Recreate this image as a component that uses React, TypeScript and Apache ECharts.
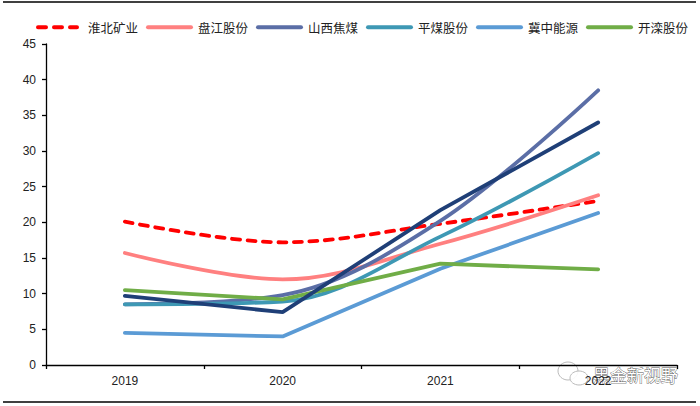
import React, { useEffect, useRef } from "react";
import * as echarts from "echarts";

const categories = ["2019", "2020", "2021", "2022"];
const huaibei = [20.1, 17.2, 19.8, 23.0];
const panjiang = [15.7, 12.0, 17.0, 23.8];
const shanxi = [8.5, 9.8, 20.2, 38.5];
const pingmei = [8.5, 8.9, 18.0, 29.7];
const jizhong = [4.5, 4.0, 13.5, 21.3];
const kailuan = [10.5, 9.2, 14.2, 13.4];
const unlabeled = [9.7, 7.4, 21.7, 34.0];
const legendNames = ["淮北矿业", "盘江股份", "山西焦煤", "平煤股份", "冀中能源", "开滦股份"];

const font = "Liberation Sans, Arial, sans-serif";
const cjk = "'Noto Sans CJK SC', sans-serif";

const pillIcon = "path://M2,0L45,0A2,2 0 0 1 45,4L2,4A2,2 0 0 1 2,0Z";
const dashIcon =
  "path://M2,0L10,0A2,2 0 0 1 10,4L2,4A2,2 0 0 1 2,0Z" +
  "M18,0L26,0A2,2 0 0 1 26,4L18,4A2,2 0 0 1 18,0Z" +
  "M34,0L41,0A2,2 0 0 1 41,4L34,4A2,2 0 0 1 34,0Z" +
  "M47,0L47,0L47,4L47,4Z";

function line(name: string, data: number[], color: string, smooth: boolean, dashed = false) {
  return {
    name,
    type: "line",
    data,
    smooth: smooth ? 0.35 : false,
    symbol: "none",
    lineStyle: { color, width: 3.8, type: dashed ? [8, 7.5] : "solid", cap: "round" },
    itemStyle: { color },
  };
}

export default function App() {
  const ref = useRef<HTMLDivElement>(null);
  useEffect(() => {
    const chart = echarts.init(ref.current!, undefined, { renderer: "svg" });
    chart.setOption({
      animation: false,
      backgroundColor: "#fff",
      grid: { left: 46, right: 23, top: 44, bottom: 41 },
      legend: {
        data: legendNames.map((name, i) => ({ name, icon: i === 0 ? dashIcon : pillIcon })),
        left: 36,
        top: 21,
        padding: 0,
        itemWidth: 47,
        itemHeight: 4,
        itemGap: 8,
        symbolKeepAspect: false,
        textStyle: { fontFamily: cjk, fontSize: 12.5, color: "#222" },
      },
      xAxis: {
        type: "category",
        data: categories,
        boundaryGap: true,
        axisLine: { lineStyle: { color: "#000", width: 1.3 } },
        axisTick: { show: true, length: 4, lineStyle: { color: "#000", width: 1.3 } },
        axisLabel: { fontFamily: font, fontSize: 12, color: "#222", margin: 10 },
      },
      yAxis: {
        type: "value",
        min: 0,
        max: 45,
        interval: 5,
        splitLine: { show: false },
        axisLine: { show: true, lineStyle: { color: "#000", width: 1.3 } },
        axisTick: { show: true, length: 4, lineStyle: { color: "#000", width: 1.3 } },
        axisLabel: { fontFamily: font, fontSize: 12, color: "#222", margin: 10 },
      },
      series: [
        line("淮北矿业", huaibei, "#ff0000", true, true),
        line("盘江股份", panjiang, "#ff8080", true),
        line("山西焦煤", shanxi, "#5b6ea6", true),
        line("平煤股份", pingmei, "#3e98b4", true),
        line("冀中能源", jizhong, "#5b9bd5", false),
        line("开滦股份", kailuan, "#70ad47", false),
        line("其他", unlabeled, "#1f3f77", false),
      ],
      graphic: [
        { type: "line", shape: { x1: 3, y1: 2, x2: 696, y2: 2 }, style: { stroke: "#000", lineWidth: 1.5 } },
        { type: "line", shape: { x1: 3, y1: 402, x2: 696, y2: 402 }, style: { stroke: "#000", lineWidth: 1.5 } },
        { type: "ellipse", shape: { cx: 568, cy: 371, rx: 10, ry: 9 }, style: { fill: "rgba(255,255,255,0.8)", stroke: "#bbb", lineWidth: 1 } },
        { type: "ellipse", shape: { cx: 579, cy: 378, rx: 9, ry: 7 }, style: { fill: "rgba(255,255,255,0.9)", stroke: "#bbb", lineWidth: 1 } },
        {
          type: "text",
          x: 593,
          y: 366,
          style: { text: "黑金新视野", fontFamily: cjk, fontSize: 17, fill: "#fff", stroke: "#555", lineWidth: 0.8 },
        },
      ],
    });
    return () => chart.dispose();
  }, []);
  return <div ref={ref} style={{ width: 700, height: 406, position: "absolute", left: 0, top: 0 }} />;
}
